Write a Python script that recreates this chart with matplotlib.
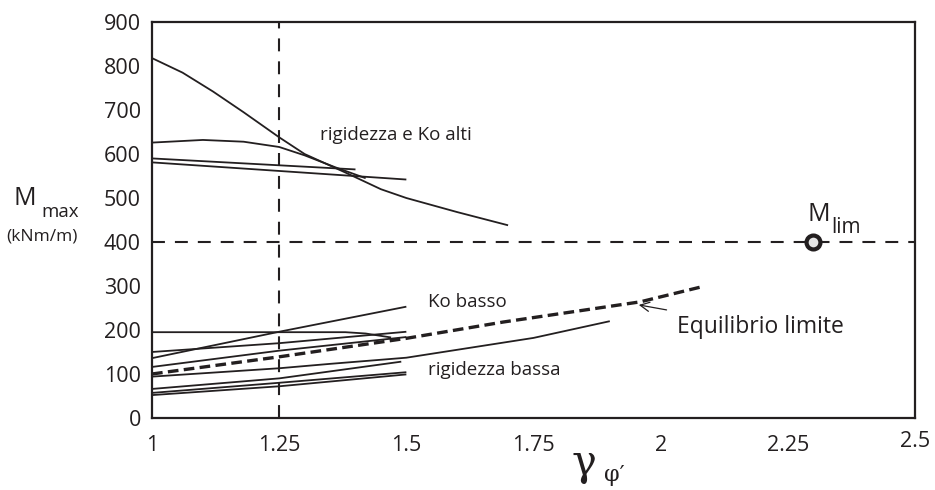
import matplotlib
matplotlib.use('Agg')
import matplotlib.pyplot as plt

plt.rcParams['font.family'] = ['Open Sans', 'DejaVu Sans']

# gamma_phi' values and Mmax (kNm/m) for each analysis
# rigidezza e Ko alti
alti_x1 = [1.0, 1.06, 1.12, 1.18, 1.25, 1.3, 1.38, 1.45, 1.5, 1.6, 1.7]
alti_y1 = [818, 785, 742, 695, 638, 600, 558, 520, 500, 468, 438]
alti_x2 = [1.0, 1.1, 1.18, 1.25, 1.3, 1.36, 1.42]
alti_y2 = [626, 632, 628, 616, 597, 570, 545]
alti_x3 = [1.0, 1.4]
alti_y3 = [590, 565]
alti_x4 = [1.0, 1.5]
alti_y4 = [581, 542]

# Ko basso
kob_x = [1.0, 1.25, 1.5]
kob_y = [136, 196, 253]
hor_x = [1.0, 1.38, 1.42, 1.47]
hor_y = [195, 195, 192, 183]
mid_x1 = [1.0, 1.25, 1.5]
mid_y1 = [150, 170, 196]
mid_x2 = [1.0, 1.25, 1.5]
mid_y2 = [116, 153, 184]

# long curve up to 1.9
long_x = [1.0, 1.25, 1.35, 1.5, 1.75, 1.9]
long_y = [94, 113, 123, 137, 182, 220]

# rigidezza bassa
bas_x1 = [1.0, 1.25, 1.49]
bas_y1 = [66, 90, 128]
bas_x2 = [1.0, 1.25, 1.5]
bas_y2 = [57, 80, 104]
bas_x3 = [1.0, 1.25, 1.5]
bas_y3 = [52, 72, 99]

# equilibrio limite
eq_x = [1.0, 1.25, 1.5, 1.69, 1.96, 2.08]
eq_y = [100, 139, 181, 218, 264, 298]

m_lim_x = 2.3
m_lim = 400
gamma_design = 1.25

xticks = [1, 1.25, 1.5, 1.75, 2, 2.25]
xtick_labels = ['1', '1.25', '1.5', '1.75', '2', '2.25']
yticks = [0, 100, 200, 300, 400, 500, 600, 700, 800, 900]

ink = '#231f20'

fig = plt.figure(figsize=(9.35, 4.9), dpi=100)
ax = fig.add_axes([0.1626, 0.147, 0.816, 0.808])

dash = (6.2, 4.8)
ax.axvline(gamma_design, color=ink, lw=1.5, dashes=dash)
ax.axhline(m_lim, color=ink, lw=1.5, dashes=dash)

curves = [(alti_x1, alti_y1), (alti_x2, alti_y2), (alti_x3, alti_y3), (alti_x4, alti_y4),
          (kob_x, kob_y), (hor_x, hor_y), (mid_x1, mid_y1), (mid_x2, mid_y2),
          (long_x, long_y), (bas_x1, bas_y1), (bas_x2, bas_y2), (bas_x3, bas_y3)]
for cx, cy in curves:
    ax.plot(cx, cy, color=ink, lw=1.3, solid_capstyle='butt')

ax.plot(eq_x, eq_y, color=ink, lw=2.4, dashes=(3.2, 1.6))

ax.plot([m_lim_x], [m_lim], 'o', ms=10, mfc='#e6e6e6', mec=ink, mew=3, zorder=5)

ax.set_xlim(1, 2.5)
ax.set_ylim(0, 900)
ax.set_xticks(xticks)
ax.set_xticklabels(xtick_labels)
ax.set_yticks(yticks)
ax.tick_params(length=0, labelsize=15.5, colors=ink, pad=8)
ax.tick_params(axis='x', pad=12)
for s in ax.spines.values():
    s.set_linewidth(1.6)
    s.set_color(ink)

# 2.5 sits a little higher than the other labels
ax.text(2.5, -0.033, '2.5', transform=ax.get_xaxis_transform(), ha='center', va='top',
        fontsize=15.5, color=ink)

txt = dict(color=ink, fontsize=13.5)
ax.text(1.331, 643, 'rigidezza e Ko alti', va='center', **txt)
ax.text(1.543, 264, 'Ko basso', va='center', **txt)
ax.text(1.543, 109, 'rigidezza bassa', va='center', **txt)
ax.annotate('Equilibrio limite', xy=(1.957, 257), xytext=(2.033, 207), va='center',
            color=ink, fontsize=16.5,
            arrowprops=dict(arrowstyle='->', color=ink, lw=0.9,
                            shrinkA=9, shrinkB=0))
ax.text(2.31, 462, 'M', ha='center', va='center', color=ink, fontsize=18)
ax.text(2.336, 432, 'lim', ha='left', va='center', color=ink, fontsize=15)

# axis titles
fig.text(0.014, 0.595, 'M', fontsize=18, color=ink, va='center')
fig.text(0.044, 0.568, 'max', fontsize=13.5, color=ink, va='center')
fig.text(0.007, 0.518, '(kNm/m)', fontsize=12.5, color=ink, va='center')
fig.text(0.624, 0.056, 'γ', fontsize=30, color=ink, ha='center', va='center',
         family=['DejaVu Serif'])
fig.text(0.646, 0.03, "φ′", fontsize=16, color=ink, ha='left', va='center',
         family=['DejaVu Serif'])

fig.savefig('out.png', dpi=100)
